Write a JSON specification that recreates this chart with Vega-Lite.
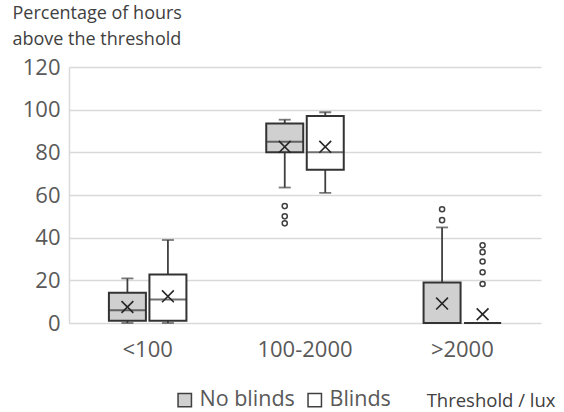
{
  "$schema": "https://vega.github.io/schema/vega-lite/v6.json",
  "width": 472,
  "height": 256,
  "autosize": {"type": "none"},
  "padding": {"left": 69, "top": 67, "right": 23, "bottom": 89},
  "background": "#ffffff",
  "config": {
    "font": "Open Sans",
    "view": {"stroke": null}
  },
  "datasets": {
    "boxes": [
      {"threshold": "<100", "series": "No blinds", "lower": 0, "q1": 1, "median": 6, "q3": 14.2, "upper": 20.9, "mean": 7.5},
      {"threshold": "<100", "series": "Blinds", "lower": 0, "q1": 1, "median": 11, "q3": 22.7, "upper": 38.9, "mean": 12.5},
      {"threshold": "100-2000", "series": "No blinds", "lower": 63.5, "q1": 80, "median": 85, "q3": 93.5, "upper": 95.3, "mean": 82.6},
      {"threshold": "100-2000", "series": "Blinds", "lower": 61, "q1": 71.8, "median": 80, "q3": 97, "upper": 98.8, "mean": 82.6},
      {"threshold": ">2000", "series": "No blinds", "lower": 0, "q1": 0, "median": 0, "q3": 19, "upper": 44.8, "mean": 9.1},
      {"threshold": ">2000", "series": "Blinds", "lower": 0, "q1": 0, "median": 0, "q3": 0, "upper": 0, "mean": 4.1}
    ],
    "outliers": [
      {"threshold": "100-2000", "series": "No blinds", "value": 54.8},
      {"threshold": "100-2000", "series": "No blinds", "value": 50},
      {"threshold": "100-2000", "series": "No blinds", "value": 46.7},
      {"threshold": ">2000", "series": "No blinds", "value": 48.2},
      {"threshold": ">2000", "series": "No blinds", "value": 53.3},
      {"threshold": ">2000", "series": "Blinds", "value": 36.4},
      {"threshold": ">2000", "series": "Blinds", "value": 33.2},
      {"threshold": ">2000", "series": "Blinds", "value": 28.8},
      {"threshold": ">2000", "series": "Blinds", "value": 23.8},
      {"threshold": ">2000", "series": "Blinds", "value": 18.3}
    ]
  },
  "encoding": {
    "x": {
      "field": "threshold",
      "type": "nominal",
      "sort": ["<100", "100-2000", ">2000"],
      "scale": {"paddingInner": 0.485, "paddingOuter": 0.2425},
      "axis": {
        "title": "Threshold / lux",
        "titleFontSize": 18.5,
        "titleFontWeight": "normal",
        "titleColor": "#404040",
        "titleAnchor": null,
        "titleAlign": "right",
        "titleBaseline": "alphabetic",
        "titleX": 486,
        "titleY": 83,
        "labelAngle": 0,
        "labelFontSize": 22,
        "labelColor": "#595959",
        "labelPadding": 16,
        "ticks": false,
        "domain": false
      }
    },
    "xOffset": {
      "field": "series",
      "type": "nominal",
      "sort": ["No blinds", "Blinds"],
      "scale": {"paddingInner": 0, "paddingOuter": 0}
    }
  },
  "layer": [
    {
      "data": {"name": "boxes"},
      "mark": {"type": "rule", "stroke": "#404040", "strokeWidth": 1.8},
      "encoding": {
        "y": {
          "field": "lower",
          "type": "quantitative",
          "scale": {"domain": [0, 120]},
          "axis": {
            "values": [0, 20, 40, 60, 80, 100, 120],
            "title": ["Percentage of hours", "above the threshold"],
            "titleAngle": 0,
            "titleAlign": "left",
            "titleBaseline": "top",
            "titleAnchor": null,
            "titleX": -57,
            "titleY": -63,
            "titleFontSize": 18,
            "titleFontWeight": "normal",
            "titleColor": "#404040",
            "titleLineHeight": 26,
            "labelFontSize": 22,
            "labelColor": "#595959",
            "labelPadding": 9,
            "ticks": false,
            "domainColor": "#d9d9d9",
            "domainWidth": 1.5,
            "gridColor": "#d9d9d9",
            "gridWidth": 1.5
          }
        },
        "y2": {"field": "upper"}
      }
    },
    {
      "data": {"name": "boxes"},
      "mark": {"type": "tick", "color": "#404040", "size": 12, "thickness": 1.8},
      "encoding": {"y": {"field": "lower", "type": "quantitative"}}
    },
    {
      "data": {"name": "boxes"},
      "mark": {"type": "tick", "color": "#404040", "size": 12, "thickness": 1.8},
      "encoding": {"y": {"field": "upper", "type": "quantitative"}}
    },
    {
      "data": {"name": "boxes"},
      "mark": {"type": "bar", "width": 37, "stroke": "#333333", "strokeWidth": 2},
      "encoding": {
        "y": {"field": "q1", "type": "quantitative"},
        "y2": {"field": "q3"},
        "fill": {
          "field": "series",
          "type": "nominal",
          "sort": ["No blinds", "Blinds"],
          "scale": {"domain": ["No blinds", "Blinds"], "range": ["#d0d0d0", "#ffffff"]},
          "legend": {
            "title": null,
            "orient": "none",
            "direction": "horizontal",
            "legendX": 105,
            "legendY": 322,
            "symbolType": "square",
            "symbolSize": 180,
            "symbolStrokeColor": "#404040",
            "symbolStrokeWidth": 1.5,
            "labelFontSize": 21.5,
            "labelColor": "#595959",
            "labelOffset": 4,
            "columnPadding": 9
          }
        }
      }
    },
    {
      "data": {"name": "boxes"},
      "mark": {"type": "tick", "color": "#333333", "size": 37, "thickness": 2},
      "encoding": {"y": {"field": "median", "type": "quantitative"}}
    },
    {
      "data": {"name": "boxes"},
      "mark": {
        "type": "point",
        "shape": "M-1,-1L1,1M1,-1L-1,1",
        "size": 140,
        "filled": false,
        "stroke": "#262626",
        "strokeWidth": 1.6,
        "opacity": 1
      },
      "encoding": {"y": {"field": "mean", "type": "quantitative"}}
    },
    {
      "data": {"name": "outliers"},
      "mark": {
        "type": "point",
        "shape": "circle",
        "size": 26,
        "filled": false,
        "fill": "#ffffff",
        "stroke": "#404040",
        "strokeWidth": 1.5,
        "opacity": 1
      },
      "encoding": {"y": {"field": "value", "type": "quantitative"}}
    }
  ]
}
